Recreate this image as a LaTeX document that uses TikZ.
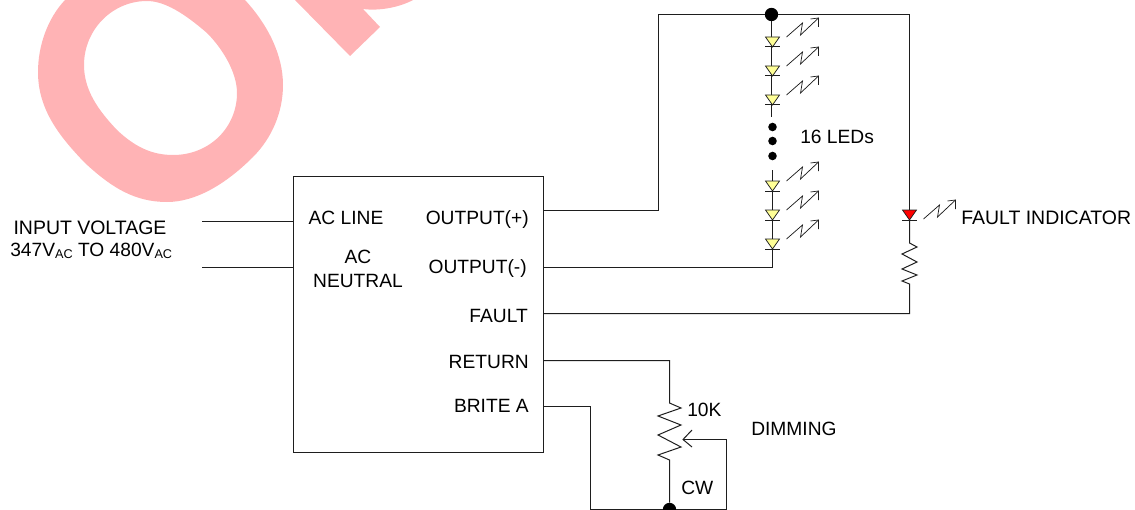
\documentclass[tikz,border=0pt]{standalone}
\usepackage{fontspec}
\setmainfont{Liberation Sans}
\usepackage{tikz}
\usetikzlibrary{arrows, positioning, shapes.geometric}
\definecolor{wirecol}{RGB}{30,30,30}
\definecolor{markcol}{RGB}{255,179,181}
\definecolor{ledyellow}{RGB}{255,255,150}
\tikzset{
wire/.style={draw=wirecol, line width=.75pt},
thin wire/.style={draw=wirecol, line width=.55pt},
lbl/.style={inner sep=0pt, font=\fontsize{14.4}{17}\selectfont},
rlbl/.style={lbl, anchor=east},
llbl/.style={lbl, anchor=west},
bigdot/.style={circle, fill=black, inner sep=0pt, minimum size=10pt},
smalldot/.style={circle, fill=black, inner sep=0pt, minimum size=6.4pt}
}
% led with its light arrow, #1,#2 is the tip of the triangle, #4 moves the arrow down
\newcommand{\ledmark}[4]{
\begin{scope}[shift={(#1,#2)}]
\filldraw[thin wire, fill=#3] (-7,-10) -- (7,-10) -- (0,0) -- cycle;
\draw[wire] (-7.5,0) -- (7.5,0);
\draw[thin wire] (14,-10+#4) -- (30,-24+#4) -- (28,-12+#4) -- (46,-29+#4);
\draw[thin wire] (38,-28+#4) -- (46,-29+#4) -- (46,-20+#4);
\end{scope}
}
\begin{document}
\begin{tikzpicture}[x=.75pt,y=-.75pt]
\useasboundingbox (0,0) rectangle (1135,510);
\clip (0,0) rectangle (1135,510);
% watermark
\fill[markcol, even odd rule]
(38,72) .. controls (38,110) and (60,137) .. (85,163)
.. controls (112,188) and (135,202) .. (167,202)
.. controls (195,202) and (225,185) .. (253,157)
.. controls (272,138) and (283,112) .. (283,85)
.. controls (283,55) and (268,25) .. (245,0)
.. controls (225,-25) and (190,-48) .. (155,-48)
.. controls (120,-48) and (85,-22) .. (65,0)
.. controls (48,18) and (38,45) .. (38,72) -- cycle
(147,1) .. controls (112,1) and (84,30) .. (84,65)
.. controls (84,90) and (98,110) .. (117,130)
.. controls (135,147) and (152,155) .. (173,155)
.. controls (210,155) and (237,127) .. (237,93)
.. controls (237,72) and (222,48) .. (207,33)
.. controls (185,14) and (165,1) .. (147,1) -- cycle;
\fill[markcol] (295,0) -- (350,56) -- (380,27) -- (363,9) .. controls (378,11) and (398,8) .. (413,0) -- cycle;

\node[wire, draw, minimum width=188pt, minimum height=207pt, inner sep=0pt] (driver) at (418.5,314) {};

\coordinate (inline) at (202,221.5);
\coordinate (inneutral) at (202,267.5);
\coordinate (outplus) at (544,210.5);
\coordinate (outminus) at (544,267.5);
\coordinate (faultpin) at (544,313.5);
\coordinate (returnpin) at (544,360.5);
\coordinate (britepin) at (544,406.5);
\coordinate (topleft) at (658.5,14.5);
\coordinate (topright) at (909.5,14.5);
\coordinate (stringend) at (772.5,267.5);
\coordinate (faultled) at (909.5,220);
\coordinate (faultres) at (909.5,243);
\coordinate (faultcorner) at (909.5,313.5);
\coordinate (dimtop) at (669.5,403);
\coordinate (dimcorner) at (669.5,360.5);
\coordinate (wiper) at (726.5,439.5);
\coordinate (wipertip) at (683,439.5);
\coordinate (britecorner) at (590.5,406.5);

\node[bigdot] (topdot) at (771.5,14.5) {};
\node[bigdot] (botdot) at (669.5,509.5) {};
\foreach \n/\y in {1/127,2/141,3/156}
{
\node[smalldot] (gap\n) at (772.5,\y) {};
}

% input
\draw[wire] (inline) -- (driver.west |- inline);
\draw[wire] (inneutral) -- (driver.west |- inneutral);
% led string
\draw[wire] (outplus) -| (topleft) -- (topdot) -- (topright);
\draw[wire] (topdot) -- (771.5,117);
\draw[wire] (772.5,170) -- (stringend) -- (outminus);
\foreach \y in {47,76,105,191,220,249}
{
\ledmark{772.5}{\y}{ledyellow}{0}
}
% fault branch
\draw[wire] (topright) -- (faultled);
\ledmark{909.5}{220}{red}{9}
\draw[wire] (faultled) -- (faultres) -- (917,247) -- (902,254) -- (917,262) -- (902,269) -- (917,275) -- (902,281) -- (909.5,284) -- (faultcorner) -- (faultpin);
% dimming
\draw[wire] (returnpin) -- (dimcorner) -- (dimtop) -- (681,408) -- (658,416) -- (681,425) -- (658,435) -- (681,447) -- (658,455) -- (669.5,460) -- (botdot);
\draw[wire] (britepin) -- (britecorner) |- (botdot) -| (wiper) -- (wipertip);
\draw[wire] (692,430) -- (wipertip) -- (692,447);

% labels
\node[lbl, font=\fontsize{14.6}{17}\selectfont] (inputlbl) at (90,228) {INPUT VOLTAGE};
\node[llbl] (rangelbl) at (10,251) {347V\raisebox{-.25ex}{\fontsize{9.5}{11}\selectfont AC} TO 480V\raisebox{-.25ex}{\fontsize{9.5}{11}\selectfont AC}};
\node[lbl] (linelbl) at (346,218) {AC LINE};
\node[lbl, align=center] (neutrallbl) at (358,269) {AC\\[1pt]NEUTRAL};
\node[rlbl] (pluslbl) at (529,220) {OUTPUT(+)};
\node[rlbl] (minuslbl) at (527,269) {OUTPUT(-)};
\node[rlbl] (faultlbl) at (528,316) {FAULT};
\node[rlbl] (returnlbl) at (529,362) {RETURN};
\node[rlbl] (britelbl) at (529,406) {BRITE A};
\node[llbl] (ledslbl) at (800,137) {16 LEDs};
\node[llbl, font=\fontsize{14.6}{17}\selectfont] (indlbl) at (961,218) {FAULT INDICATOR};
\node[llbl] (potlbl) at (687,410) {10K};
\node[llbl] (dimlbl) at (751,429) {DIMMING};
\node[llbl] (cwlbl) at (681,488) {CW};
\end{tikzpicture}
\end{document}
